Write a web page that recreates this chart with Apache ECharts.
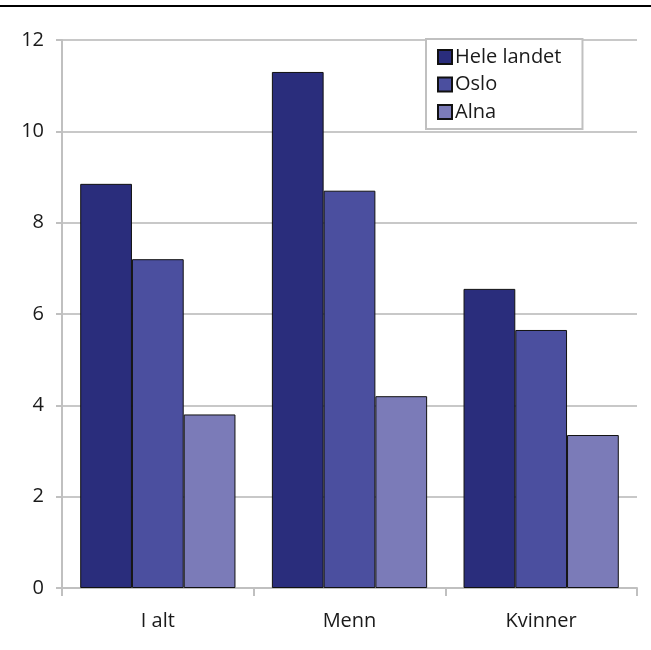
<!DOCTYPE html>
<html><head><meta charset="utf-8">
<script src="https://cdn.jsdelivr.net/npm/echarts@6/dist/echarts.min.js"></script>
<style>html,body{margin:0;padding:0;background:#fff}#c{width:651px;height:650px}</style>
</head><body><div id="c"></div>
<script>
const categories = ["I alt", "Menn", "Kvinner"];
const seriesNames = ["Hele landet", "Oslo", "Alna"];
const heleLandet = [8.85, 11.3, 6.55];
const oslo = [7.2, 8.7, 5.65];
const alna = [3.8, 4.2, 3.35];
const yTicks = [0, 2, 4, 6, 8, 10, 12];
const colors = ["#2a2d7c", "#4b4f9f", "#7b7bb8"];

const font = "'Open Sans', 'Noto Sans', sans-serif";
const chart = echarts.init(document.getElementById('c'), null, {renderer: 'canvas'});
const values = [heleLandet, oslo, alna];
chart.setOption({
  animation: false,
  backgroundColor: '#fff',
  textStyle: {fontFamily: font},
  graphic: [{type: 'rect', left: 0, top: 5, shape: {width: 651, height: 2}, style: {fill: '#000'}}],
  grid: {left: 62, right: 14, top: 40, bottom: 62},
  legend: {
    orient: 'vertical', left: 426, top: 39,
    data: seriesNames,
    icon: 'rect', itemWidth: 14, itemHeight: 14, itemGap: 3.5,
    backgroundColor: '#fff', borderColor: '#c0c0c0', borderWidth: 2,
    padding: [6, 21, 5, 11],
    textStyle: {fontSize: 20, lineHeight: 24, color: '#1a1a1a', fontFamily: font, padding: [0, 0, 0, -2]}
  },
  xAxis: {
    type: 'category', data: categories,
    axisLine: {lineStyle: {color: '#c0c0c0', width: 2}},
    axisTick: {show: true, length: 8, lineStyle: {color: '#c0c0c0', width: 2}},
    axisLabel: {fontSize: 20, color: '#1a1a1a', margin: 23, fontFamily: font}
  },
  yAxis: {
    type: 'value', min: yTicks[0], max: yTicks[yTicks.length - 1], interval: 2,
    axisLine: {show: true, lineStyle: {color: '#c0c0c0', width: 2}},
    axisTick: {show: true, length: 6, lineStyle: {color: '#c0c0c0', width: 2}},
    splitLine: {lineStyle: {color: '#c8c8c8', width: 2}},
    axisLabel: {fontSize: 20, color: '#1a1a1a', margin: 18, fontFamily: font}
  },
  series: seriesNames.map((n, i) => ({
    name: n, type: 'bar', data: values[i],
    barGap: '0%', barCategoryGap: '19%',
    itemStyle: {color: colors[i], borderColor: '#111', borderWidth: 1}
  }))
});
</script></body></html>
